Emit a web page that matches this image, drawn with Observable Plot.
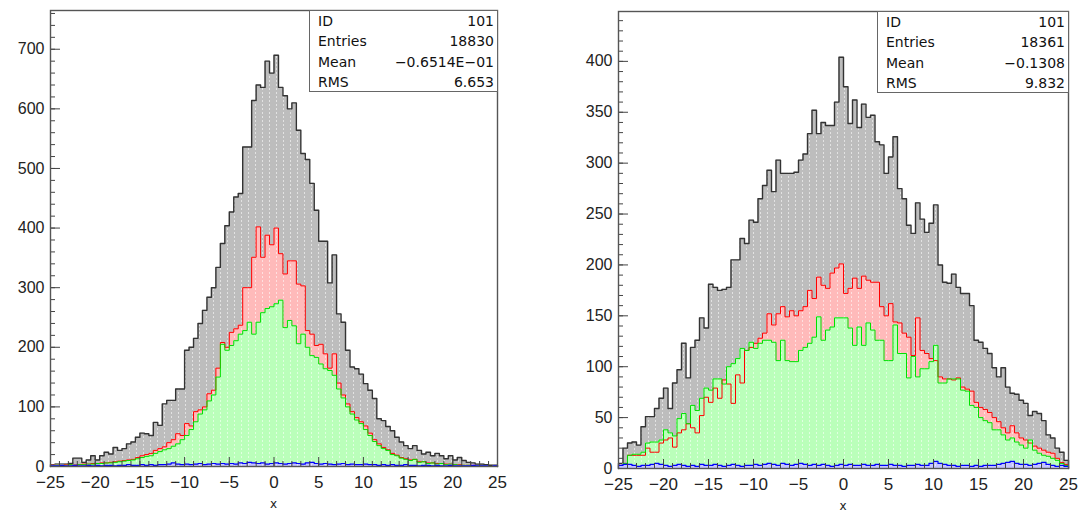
<!DOCTYPE html>
<html><head><meta charset="utf-8">
<script src="https://cdn.jsdelivr.net/npm/d3@7"></script>
<script src="https://cdn.jsdelivr.net/npm/@observablehq/plot@0.6"></script>
<style>
body{margin:0;background:#fff;}
#wrap{position:relative;width:1086px;height:513px;overflow:hidden;font-family:"DejaVu Sans",Arial,sans-serif;}
.panel{position:absolute;top:0;}
.stats{position:absolute;background:#fff;border:1.5px solid #666;box-sizing:border-box;font-size:14px;color:#111;}
.stats .row{position:absolute;left:8px;right:3px;height:20px;line-height:20px;display:flex;justify-content:space-between;}
.xtitle{position:absolute;font-size:12px;color:#222;transform:translateX(-50%);}
</style></head><body><div id="wrap"></div>
<script>
// histogram binning: 100 bins from -25 to 25
const binLow = -25, binWidth = 0.5;

// ---- left panel ----
const leftGray = [3,4,4,4,5,14,14,7,11,18,
  11,18,24,21,32,27,30,38,41,49,
  56,55,52,74,69,105,111,111,130,130,
  195,200,215,240,262,284,300,334,374,404,
  427,452,458,536,536,614,640,636,680,660,
  690,636,622,600,610,564,525,515,475,430,
  378,378,308,355,256,242,195,167,164,155,
  139,128,114,80,77,67,60,49,41,35,
  30,35,27,21,24,18,22,18,13,18,
  11,15,10,7,6,4,4,3,2,2];
const leftRed = [2,2,2,3,3,3,3,4,4,5,
  5,6,6,7,8,9,10,11,12,15,
  18,20,22,27,30,33,40,45,55,52,
  72,68,92,95,100,122,128,165,208,200,
  225,231,237,300,300,351,402,351,388,372,
  400,357,323,345,345,306,303,228,222,203,
  205,189,165,189,140,120,105,92,82,75,
  68,56,45,38,32,28,22,19,15,13,
  11,12,8,8,6,6,5,5,4,4,
  3,3,2,2,2,1,1,1,0,0];
const leftGreen = [1,2,2,2,3,2,3,3,4,4,
  5,5,6,6,7,8,9,10,11,13,
  15,17,18,22,25,28,30,34,38,45,
  52,62,75,88,95,110,120,150,205,195,
  203,211,222,228,242,222,242,258,265,268,
  273,279,233,245,236,206,222,200,186,183,
  172,164,161,153,130,115,100,88,78,72,
  62,52,42,35,30,27,20,18,14,12,
  10,12,7,8,5,6,4,5,3,4,
  3,2,2,2,1,1,1,1,0,0];
const leftBlue = [1,1,2,1,1,2,1,1,2,1,
  2,1,2,2,1,2,2,3,2,2,
  3,2,3,2,3,3,4,6,4,3,
  4,3,4,5,3,4,5,4,5,4,
  5,4,6,5,7,6,5,6,4,5,
  6,5,4,5,6,5,4,6,7,5,
  4,5,4,3,4,5,3,4,3,3,
  4,3,3,2,3,2,3,2,2,3,
  2,2,1,2,2,1,2,1,1,2,
  1,1,1,1,2,1,1,1,0,1];

// ---- right panel ----
const rightGray = [5,20,25,26,23,41,51,51,59,69,
  79,59,84,97,123,89,119,126,148,138,
  181,178,175,176,178,205,205,226,221,244,
  242,265,278,293,272,303,290,290,290,291,
  303,309,329,352,329,340,337,337,360,404,
  375,339,362,335,358,345,347,321,318,290,
  306,326,275,265,239,231,261,245,232,241,
  259,200,183,182,191,178,172,172,160,126,
  124,118,113,99,90,99,80,74,73,67,
  64,52,56,54,47,33,30,20,16,8];
const rightRed = [3,5,13,13,13,13,20,16,16,25,
  28,30,21,35,38,44,40,35,52,70,
  65,79,69,87,83,64,92,84,116,119,
  123,128,133,152,141,152,159,149,155,150,
  155,159,175,167,188,180,177,192,197,201,
  172,177,187,177,189,185,183,183,159,150,
  162,144,143,133,129,111,148,116,113,108,
  106,90,88,88,87,89,80,78,76,65,
  60,58,55,50,46,40,35,42,35,30,
  28,25,22,20,18,16,15,10,6,4];
const rightGreen = [2,5,13,14,14,16,25,26,26,28,
  38,35,32,49,54,44,62,57,69,79,
  77,88,88,83,100,103,108,118,116,124,
  118,123,126,126,124,106,126,106,105,105,
  116,119,123,129,149,126,136,139,148,148,
  148,138,121,139,121,143,136,126,126,106,
  106,141,113,113,89,110,90,98,98,105,
  121,84,84,88,88,88,77,76,62,60,
  50,47,45,38,38,33,28,30,26,23,
  20,28,18,15,13,12,10,8,5,3];
const rightBlue = [3,4,4,3,2,3,3,4,5,4,
  3,2,3,4,3,2,3,2,4,3,
  3,4,3,2,3,4,3,2,3,3,
  4,3,4,5,4,3,5,4,3,4,
  5,4,3,4,3,4,3,2,3,4,
  3,4,3,3,4,3,3,4,3,3,
  4,3,3,2,3,3,4,3,3,5,
  7,5,4,3,3,2,3,3,2,3,
  2,3,3,3,4,5,6,7,5,4,
  4,3,4,5,6,4,3,2,3,2];

// axis ticks and labels
const xMajorTicks = [-25,-20,-15,-10,-5,0,5,10,15,20,25];
const leftYTicks = [0,100,200,300,400,500,600,700];
const rightYTicks = [0,50,100,150,200,250,300,350,400];
const xTitle = "x";
const statLabels = ["ID","Entries","Mean","RMS"];
const leftStats = ["101","18830","\u22120.6514E\u221201","6.653"];
const rightStats = ["101","18361","\u22120.1308","9.832"];

const fills = {gray:["#bdbdbd","#e2e2e2"], red:["#ffbaba","#ffe0e0"], green:["#baffba","#e0ffe0"], blue:["#c4c4ff","#e4e4ff"]};
const strokes = {gray:"#333333", red:"#ff0000", green:"#00e000", blue:"#0000ff"};

function pts(values){
  const p = values.map((v,i)=>({x: binLow + i*binWidth, y: v}));
  p.push({x: binLow + values.length*binWidth, y: values[values.length-1]});
  return p;
}
function outline(values){
  const p = pts(values);
  return [{x:p[0].x, y:0}, ...p, {x:p[p.length-1].x, y:0}];
}

function panel(cfg){
  const {id, left, width, ml, mr, mt, mb, ymax, yTicks, yMinorStep, series, stats} = cfg;
  const height = 513;
  const pw = width - ml - mr, ph = height - mt - mb;
  const xMinor = d3.range(-25, 25.001, 1);
  const yMinor = d3.range(0, ymax, yMinorStep);
  const area = (key, vals) => Plot.areaY(pts(vals), {x:"x", y:"y", curve:"step-after", fill:`url(#${id}-${key})`});
  const line = (key, vals, w) => Plot.line(outline(vals), {x:"x", y:"y", curve:"step-after", stroke: strokes[key], strokeWidth: w});
  const svg = Plot.plot({
    width, height, marginLeft: ml, marginRight: mr, marginTop: mt, marginBottom: mb,
    style: {fontFamily: "Liberation Sans, Arial, sans-serif", fontSize: "16px", color: "#222", background: "transparent"},
    x: {domain: [-25, 25]},
    y: {domain: [0, ymax]},
    marks: [
      area("gray", series.gray), line("gray", series.gray, 1.4),
      area("red", series.red),
      area("green", series.green),
      line("red", series.red, 1),
      line("green", series.green, 1),
      area("blue", series.blue), line("blue", series.blue, 1.2),
      Plot.tickY(yTicks, {y: d=>d, stroke:"#444", insetRight: pw - 10}),
      Plot.tickY(yMinor, {y: d=>d, stroke:"#444", insetRight: pw - 5}),
      Plot.tickX(xMajorTicks, {x: d=>d, stroke:"#444", insetTop: ph - 9}),
      Plot.tickX(xMinor, {x: d=>d, stroke:"#444", insetTop: ph - 5}),
      Plot.axisY(yTicks, {tickSize: 0, tickPadding: 6, label: null}),
      Plot.axisX(xMajorTicks, {tickSize: 0, tickPadding: 9, label: null, tickFormat: d3.format("d"), fontSize: 17}),
      Plot.frame({stroke: "#555", strokeWidth: 1.4})
    ]
  });
  const defs = document.createElementNS("http://www.w3.org/2000/svg", "defs");
  defs.innerHTML = Object.entries(fills).map(([k,[bg,dot]]) =>
    `<pattern id="${id}-${k}" patternUnits="userSpaceOnUse" width="7" height="4"><rect width="7" height="4" fill="${bg}"/><rect x="3" y="0" width="1" height="2" fill="${dot}"/></pattern>`).join("");
  svg.insertBefore(defs, svg.firstChild);
  const wrap = document.getElementById("wrap");
  const holder = document.createElement("div");
  holder.className = "panel";
  holder.style.left = left + "px";
  holder.appendChild(svg);
  wrap.appendChild(holder);

  const t = document.createElement("div");
  t.className = "xtitle";
  t.textContent = xTitle;
  t.style.left = (left + ml + pw / 2) + "px";
  t.style.top = (height - mb + 31) + "px";
  wrap.appendChild(t);

  const box = document.createElement("div");
  box.className = "stats";
  const bx = left + cfg.boxLeft, bw = left + width - mr - bx;
  Object.assign(box.style, {left: bx + "px", top: mt + "px", width: bw + 1 + "px", height: "82px"});
  statLabels.forEach((lab, i) => {
    const r = document.createElement("div");
    r.className = "row";
    r.style.top = (i*20.3) + "px";
    const a = document.createElement("span"); a.textContent = lab;
    const b = document.createElement("span"); b.textContent = stats[i];
    r.appendChild(a); r.appendChild(b); box.appendChild(r);
  });
  wrap.appendChild(box);
}

panel({id:"L", left:0, width:545, ml:50, mr:48, mt:10, mb:47, ymax:765, yTicks:leftYTicks, yMinorStep:20,
  series:{gray:leftGray, red:leftRed, green:leftGreen, blue:leftBlue}, stats:leftStats, boxLeft:309});
panel({id:"R", left:540, width:546, ml:78, mr:18, mt:11, mb:45, ymax:449, yTicks:rightYTicks, yMinorStep:10,
  series:{gray:rightGray, red:rightRed, green:rightGreen, blue:rightBlue}, stats:rightStats, boxLeft:337});
</script></body></html>
